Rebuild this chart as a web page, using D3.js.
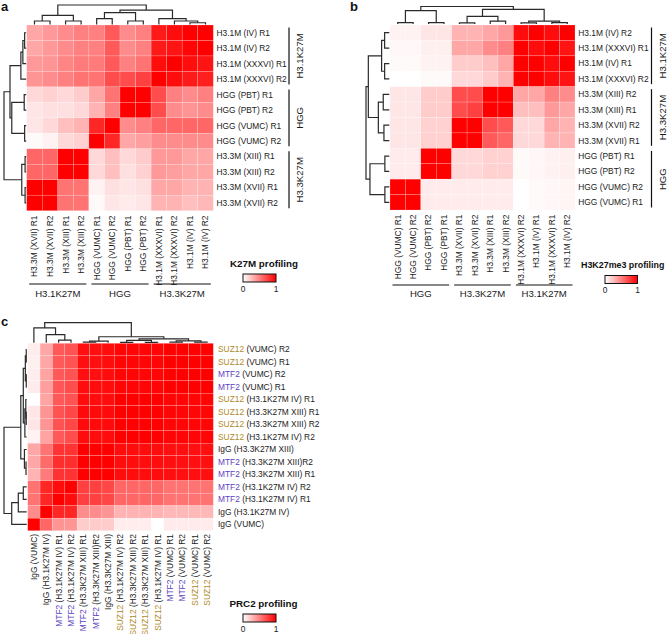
<!DOCTYPE html>
<html><head><meta charset="utf-8">
<script src="https://cdn.jsdelivr.net/npm/d3@7"></script>
<style>body{margin:0;background:#fff} text{font-family:"Liberation Sans",Arial,Helvetica,sans-serif}</style>
</head><body><svg id="chart" width="672" height="634"></svg>
<script>
// ---------------- DATA ----------------
const aRows = ["H3.1M (IV) R1","H3.1M (IV) R2","H3.1M (XXXVI) R1","H3.1M (XXXVI) R2","HGG (PBT) R1","HGG (PBT) R2","HGG (VUMC) R1","HGG (VUMC) R2","H3.3M (XIII) R1","H3.3M (XIII) R2","H3.3M (XVII) R1","H3.3M (XVII) R2"];
const aCols = ["H3.3M (XVII) R1","H3.3M (XVII) R2","H3.3M (XIII) R1","H3.3M (XIII) R2","HGG (VUMC) R1","HGG (VUMC) R2","HGG (PBT) R1","HGG (PBT) R2","H3.1M (XXXVI) R1","H3.1M (XXXVI) R2","H3.1M (IV) R1","H3.1M (IV) R2"];
const aValues = [
 [0.35,0.4,0.45,0.5,0.5,0.65,0.45,0.5,0.9,0.95,1.0,1.0],
 [0.35,0.4,0.45,0.5,0.5,0.65,0.45,0.5,0.9,0.92,0.98,1.0],
 [0.4,0.42,0.48,0.52,0.52,0.65,0.5,0.55,0.95,1.0,0.95,0.92],
 [0.42,0.45,0.5,0.55,0.55,0.7,0.7,0.75,1.0,0.95,0.9,0.88],
 [0.15,0.18,0.15,0.2,0.35,0.55,1.0,1.0,0.7,0.5,0.45,0.5],
 [0.1,0.12,0.12,0.15,0.3,0.5,1.0,1.0,0.7,0.45,0.42,0.45],
 [0.1,0.15,0.25,0.3,0.85,1.0,0.45,0.5,0.6,0.6,0.6,0.6],
 [0.02,0.05,0.15,0.18,1.0,0.85,0.35,0.38,0.45,0.45,0.45,0.45],
 [0.6,0.6,1.0,1.0,0.15,0.25,0.15,0.2,0.4,0.4,0.35,0.35],
 [0.6,0.6,1.0,1.0,0.15,0.25,0.12,0.18,0.4,0.38,0.35,0.35],
 [1.0,1.0,0.55,0.55,0.05,0.12,0.1,0.12,0.35,0.35,0.3,0.3],
 [1.0,1.0,0.55,0.55,0.02,0.1,0.08,0.1,0.3,0.3,0.25,0.28]
];
const aTopTree = [1,[0.47,[0.18,0,1],[0.18,2,3]],[0.74,[0.61,[0.3,4,5],[0.18,6,7]],[0.3,8,[0.18,9,[0.09,10,11]]]]];
const aLeftTree = [1,[0.73,[0.24,[0.15,[0.07,0,1],2],3],[0.65,[0.09,4,5],[0.07,6,7]]],[0.2,[0.05,8,9],[0.05,10,11]]];
const aRowGroups = [["H3.1K27M",0,3],["HGG",4,7],["H3.3K27M",8,11]];
const aColGroups = [["H3.1K27M",0,3],["HGG",4,7],["H3.3K27M",8,11]];
const aLegend = "K27M profiling";

const bRows = ["H3.1M (IV) R2","H3.1M (XXXVI) R1","H3.1M (IV) R1","H3.1M (XXXVI) R2","H3.3M (XIII) R2","H3.3M (XIII) R1","H3.3M (XVII) R2","H3.3M (XVII) R1","HGG (PBT) R1","HGG (PBT) R2","HGG (VUMC) R2","HGG (VUMC) R1"];
const bCols = ["HGG (VUMC) R1","HGG (VUMC) R2","HGG (PBT) R2","HGG (PBT) R1","H3.3M (XVII) R1","H3.3M (XVII) R2","H3.3M (XIII) R1","H3.3M (XIII) R2","H3.1M (XXXVI) R2","H3.1M (IV) R1","H3.1M (XXXVI) R1","H3.1M (IV) R2"];
const bValues = [
 [0.05,0.05,0.1,0.1,0.3,0.3,0.35,0.4,0.95,1.0,0.95,1.0],
 [0.03,0.03,0.06,0.06,0.35,0.35,0.45,0.5,1.0,0.95,1.0,0.92],
 [0.02,0.02,0.05,0.05,0.2,0.2,0.25,0.35,1.0,1.0,0.95,1.0],
 [0.0,0.0,0.02,0.02,0.15,0.15,0.2,0.3,1.0,1.0,0.95,0.92],
 [0.1,0.1,0.2,0.2,0.7,0.7,1.0,1.0,0.35,0.35,0.5,0.45],
 [0.1,0.1,0.2,0.2,0.7,0.75,1.0,1.0,0.25,0.25,0.4,0.35],
 [0.1,0.1,0.18,0.18,1.0,1.0,0.7,0.65,0.15,0.15,0.35,0.3],
 [0.1,0.1,0.18,0.18,1.0,1.0,0.65,0.6,0.15,0.15,0.3,0.3],
 [0.08,0.08,1.0,1.0,0.15,0.15,0.18,0.18,0.02,0.03,0.05,0.06],
 [0.08,0.08,1.0,1.0,0.15,0.15,0.18,0.18,0.02,0.03,0.05,0.06],
 [1.0,1.0,0.08,0.08,0.08,0.08,0.08,0.08,0.0,0.02,0.03,0.04],
 [1.0,1.0,0.08,0.08,0.08,0.08,0.08,0.08,0.0,0.02,0.03,0.04]
];
const bTopTree = [1,[0.76,[0.08,0,1],[0.08,2,3]],[0.84,[0.44,[0.06,4,5],[0.16,6,7]],[0.16,[0.06,8,9],[0.08,10,11]]]];
const bLeftTree = [1,[0.9,[0.33,[0.2,0,1],[0.2,2,3]],[0.47,[0.26,4,5],[0.23,6,7]]],[0.83,[0.19,8,9],[0.19,10,11]]];
const bRowGroups = [["H3.1K27M",0,3],["H3.3K27M",4,7],["HGG",8,11]];
const bColGroups = [["HGG",0,3],["H3.3K27M",4,7],["H3.1K27M",8,11]];
const bLegend = "H3K27me3 profiling";

const cRows = ["SUZ12 (VUMC) R2","SUZ12 (VUMC) R1","MTF2 (VUMC) R2","MTF2 (VUMC) R1","SUZ12 (H3.1K27M IV) R1","SUZ12 (H3.3K27M XIII) R1","SUZ12 (H3.3K27M XIII) R2","SUZ12 (H3.1K27M IV) R2","IgG (H3.3K27M XIII)","MTF2 (H3.3K27M XIII)R2","MTF2 (H3.3K27M XIII) R1","MTF2 (H3.1K27M IV) R2","MTF2 (H3.1K27M IV) R1","IgG (H3.1K27M IV)","IgG (VUMC)"];
const cCols = ["IgG (VUMC)","IgG (H3.1K27M IV)","MTF2 (H3.1K27M IV) R1","MTF2 (H3.1K27M IV) R2","MTF2 (H3.3K27M XIII) R1","MTF2 (H3.3K27M XIII)R2","IgG (H3.3K27M XIII)","SUZ12 (H3.1K27M IV) R2","SUZ12 (H3.3K27M XIII) R2","SUZ12 (H3.3K27M XIII) R1","SUZ12 (H3.1K27M IV) R1","MTF2 (VUMC) R1","MTF2 (VUMC) R2","SUZ12 (VUMC) R1","SUZ12 (VUMC) R2"];
const cValues = [
 [0.07,0.35,0.65,0.68,0.94,0.94,0.95,0.98,0.98,0.98,0.98,1,1,1,1],
 [0.06,0.35,0.65,0.68,0.94,0.94,0.95,0.98,0.98,0.98,0.98,1,1,1,1],
 [0.07,0.36,0.65,0.68,0.94,0.94,0.95,0.98,0.98,0.98,0.98,1,1,1,1],
 [0.08,0.38,0.66,0.7,0.95,0.95,0.95,0.98,0.98,0.98,0.98,1,1,1,1],
 [0.0,0.36,0.65,0.68,0.95,0.95,0.95,1,1,1,1,0.98,0.98,0.98,0.98],
 [0.1,0.42,0.68,0.72,0.96,0.96,0.96,1,1,1,1,0.98,0.98,0.98,0.98],
 [0.1,0.42,0.68,0.72,0.96,0.96,0.96,1,1,1,1,0.98,0.98,0.98,0.98],
 [0.05,0.36,0.65,0.7,0.95,0.95,0.95,1,1,1,1,0.98,0.98,0.98,0.98],
 [0.35,0.55,0.8,0.8,1,1,1,0.95,0.95,0.95,0.95,0.94,0.94,0.94,0.94],
 [0.35,0.58,0.82,0.82,1,1,1,0.95,0.95,0.95,0.95,0.94,0.94,0.94,0.94],
 [0.3,0.52,0.8,0.8,1,1,1,0.95,0.95,0.95,0.95,0.94,0.94,0.94,0.94],
 [0.55,0.85,0.95,1,0.75,0.75,0.72,0.6,0.6,0.6,0.6,0.55,0.55,0.55,0.55],
 [0.55,0.85,1,0.95,0.75,0.75,0.72,0.6,0.6,0.6,0.6,0.55,0.55,0.55,0.55],
 [0.45,1,0.85,0.85,0.45,0.45,0.42,0.3,0.3,0.3,0.3,0.28,0.28,0.28,0.28],
 [1,0.6,0.42,0.42,0.2,0.2,0.2,0.07,0.07,0.07,0,0.08,0.08,0.08,0.08]
];
const cTopTree = [1,[0.74,0,[0.41,1,[0.13,2,3]]],[0.3,[0.08,[0.03,4,5],6],[0.2,[0.12,[0.02,7,8],[0.02,9,10]],[0.1,[0.03,11,12],[0.03,13,14]]]]];
const cLeftTree = [1,[0.26,[0.15,[0.06,[0.02,0,1],[0.02,2,3]],[0.08,[0.04,4,[0.02,5,6]],7]],[0.1,8,[0.03,9,10]]],[0.66,[0.37,[0.15,11,12],13],14]];
const cLegend = "PRC2 profiling";
const legendTicks = ["0","1"];
const prefixColors = {"MTF2":"#5b3fc4","SUZ12":"#b08a2a","IgG":"#222"};

// ---------------- DRAWING ----------------
const svg = d3.select("#chart");
svg.append("rect").attr("width",672).attr("height",634).attr("fill","#fff");
const defs = svg.append("defs");
const grad = defs.append("linearGradient").attr("id","lg");
grad.append("stop").attr("offset","0%").attr("stop-color","#ffffff");
grad.append("stop").attr("offset","100%").attr("stop-color","#ff0000");
const color = d3.scaleLinear().domain([0,1]).range(["#ffffff","#ff0000"]).interpolate(d3.interpolateRgb);
const TXT = "#1a1a1a";
const FS = 8.4;

function labelText(sel, s, colored){
  if(!colored){ sel.text(s); return; }
  const m = s.match(/^(MTF2|SUZ12|IgG)(.*)$/);
  if(!m){ sel.text(s); return; }
  sel.append("tspan").attr("fill",prefixColors[m[1]]).text(m[1]);
  sel.append("tspan").attr("fill",TXT).text(m[2]);
}

function drawTree(g, tree, orient, posScale, hScale){
  const root = d3.hierarchy(tree, d => Array.isArray(d) ? d.slice(1) : null);
  root.eachAfter(n => {
    if(!n.children){ n.p = posScale(n.data) + posScale.bandwidth()/2; n.h = 0; }
    else { n.p = d3.mean(n.children, c => c.p); n.h = n.data[0]; }
  });
  const pt = (p,h) => orient === "top" ? [p, hScale(h)] : [hScale(h), p];
  const line = d3.line();
  root.each(n => {
    if(!n.children) return;
    const [a,b] = n.children;
    g.append("path").attr("d", line([pt(a.p,a.h),pt(a.p,n.h),pt(b.p,n.h),pt(b.p,b.h)]))
      .attr("fill","none").attr("stroke","#2a2a2a").attr("stroke-width",1.2);
  });
}

function drawPanel(cfg){
  const g = svg.append("g");
  const x = d3.scaleBand().domain(d3.range(cfg.cols.length)).range([cfg.x0,cfg.x1]);
  const y = d3.scaleBand().domain(d3.range(cfg.rows.length)).range([cfg.y0,cfg.y1]);
  cfg.values.forEach((row,i) => row.forEach((v,j) => {
    g.append("rect").attr("x",x(j)).attr("y",y(i)).attr("width",x.bandwidth()).attr("height",y.bandwidth())
      .attr("fill",color(v)).attr("stroke","rgba(255,255,255,0.35)").attr("stroke-width",0.5);
  }));
  drawTree(g, cfg.topTree, "top", x, d3.scaleLinear().domain([0,1]).range([cfg.topLeaf,cfg.topRoot]));
  drawTree(g, cfg.leftTree, "left", y, d3.scaleLinear().domain([0,1]).range([cfg.leftLeaf,cfg.leftRoot]));
  cfg.rows.forEach((r,i) => {
    const t = g.append("text").attr("x",cfg.rowLabelX).attr("y",y(i)+y.bandwidth()/2).attr("dy","0.35em")
      .attr("font-size",FS).attr("fill",TXT);
    labelText(t, r, cfg.colored);
  });
  cfg.cols.forEach((c,j) => {
    const cx = x(j)+x.bandwidth()/2;
    const t = g.append("text").attr("transform",`translate(${cx},${cfg.colLabelY}) rotate(-90)`)
      .attr("text-anchor","end").attr("dy","0.35em").attr("font-size",FS).attr("fill",TXT);
    labelText(t, c, cfg.colored);
  });
  (cfg.rowGroups||[]).forEach(([lab,s,e]) => {
    const ya = y(s)+2.5, yb = y(e)+y.bandwidth()-2.5;
    g.append("line").attr("x1",cfg.bracketX).attr("x2",cfg.bracketX).attr("y1",ya).attr("y2",yb)
      .attr("stroke","#111").attr("stroke-width",1.2);
    g.append("text").attr("transform",`translate(${cfg.bracketLabelX},${(ya+yb)/2}) rotate(-90)`)
      .attr("text-anchor","middle").attr("dy","0.35em").attr("font-size",9.6).attr("fill",TXT).text(lab);
  });
  (cfg.colGroups||[]).forEach(([lab,s,e]) => {
    const xa = x(s)+2.5, xb = x(e)+x.bandwidth()-2.5;
    g.append("line").attr("x1",xa).attr("x2",xb).attr("y1",cfg.groupLineY).attr("y2",cfg.groupLineY)
      .attr("stroke","#111").attr("stroke-width",1.2);
    g.append("text").attr("x",(xa+xb)/2).attr("y",cfg.groupLabelY).attr("text-anchor","middle")
      .attr("font-size",9.6).attr("fill",TXT).text(lab);
  });
  const L = cfg.legend;
  g.append("text").attr("x",L.titleX).attr("y",L.titleY).attr("font-size",L.titleSize).attr("font-weight","bold")
    .attr("fill","#111").text(cfg.legendTitle);
  g.append("rect").attr("x",L.barX).attr("y",L.barY).attr("width",L.barW).attr("height",L.barH)
    .attr("fill","url(#lg)").attr("stroke","#111").attr("stroke-width",1);
  const ls = d3.scaleLinear().domain([0,1]).range([L.barX, L.barX+L.barW]);
  legendTicks.forEach(t => g.append("text").attr("x",ls(+t)).attr("y",L.tickY).attr("text-anchor","middle")
    .attr("font-size",8.4).attr("fill",TXT).text(t));
  g.append("text").attr("x",cfg.letter[0]).attr("y",cfg.letter[1]).attr("font-size",13).attr("font-weight","bold")
    .attr("fill","#111").text(cfg.letter[2]);
}

drawPanel({rows:aRows, cols:aCols, values:aValues, topTree:aTopTree, leftTree:aLeftTree,
  rowGroups:aRowGroups, colGroups:aColGroups, legendTitle:aLegend, colored:false,
  x0:26.7, x1:213.3, y0:25, y1:210.7, topLeaf:24.5, topRoot:5, leftLeaf:26.2, leftRoot:4,
  rowLabelX:216.5, colLabelY:215.5, bracketX:289, bracketLabelX:300, groupLineY:284, groupLabelY:297,
  legend:{titleX:230,titleY:267,titleSize:9.8,barX:243,barY:274,barW:33,barH:8,tickY:292}, letter:[1,11,"a"]});

drawPanel({rows:bRows, cols:bCols, values:bValues, topTree:bTopTree, leftTree:bLeftTree,
  rowGroups:bRowGroups, colGroups:bColGroups, legendTitle:bLegend, colored:false,
  x0:390, x1:575, y0:25, y1:210, topLeaf:24, topRoot:6.5, leftLeaf:389.3, leftRoot:366,
  rowLabelX:578.3, colLabelY:214.5, bracketX:651.5, bracketLabelX:663, groupLineY:285, groupLabelY:297,
  legend:{titleX:581,titleY:268,titleSize:8.9,barX:605,barY:275.5,barW:32.5,barH:8,tickY:293}, letter:[350,11,"b"]});

drawPanel({rows:cRows, cols:cCols, values:cValues, topTree:cTopTree, leftTree:cLeftTree,
  rowGroups:[], colGroups:[], legendTitle:cLegend, colored:true,
  x0:27.7, x1:213.3, y0:343.3, y1:530.7, topLeaf:342.8, topRoot:322.7, leftLeaf:26.7, leftRoot:4,
  rowLabelX:218, colLabelY:534, bracketX:0, bracketLabelX:0, groupLineY:0, groupLabelY:0,
  legend:{titleX:229.5,titleY:607,titleSize:9.8,barX:243,barY:614,barW:33,barH:8,tickY:632}, letter:[1,326,"c"]});
</script></body></html>
